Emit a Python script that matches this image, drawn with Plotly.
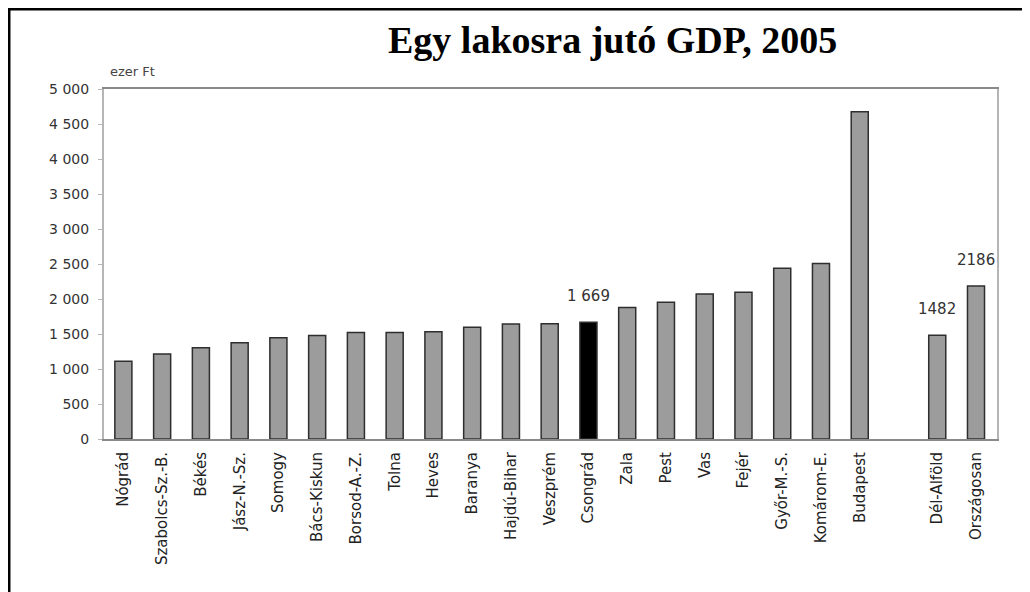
import plotly.graph_objects as go

categories = ["Nógrád", "Szabolcs-Sz.-B.", "Békés", "Jász-N.-Sz.", "Somogy", "Bács-Kiskun",
              "Borsod-A.-Z.", "Tolna", "Heves", "Baranya", "Hajdú-Bihar", "Veszprém",
              "Csongrád", "Zala", "Pest", "Vas", "Fejér", "Győr-M.-S.", "Komárom-E.",
              "Budapest", " ", "Dél-Alföld", "Országosan"]
values = [1110, 1215, 1305, 1375, 1448, 1480, 1522, 1522, 1533, 1595, 1643, 1645,
          1669, 1880, 1952, 2070, 2095, 2438, 2508, 4676, None, 1482, 2186]
highlight = "Csongrád"
labels = {"Csongrád": "1 669", "Dél-Alföld": "1482", "Országosan": "2186"}
y_ticks = [0, 500, 1000, 1500, 2000, 2500, 3000, 3500, 4000, 4500, 5000]
title_text = "Egy lakosra jutó GDP, 2005"
unit_text = "ezer Ft"

colors = ["#000000" if c == highlight else "#9c9c9c" for c in categories]

fig = go.Figure()
fig.add_trace(go.Bar(
    x=categories, y=values,
    marker=dict(color=colors, line=dict(color="#2e2e2e", width=1.5)),
    hoverinfo="x+y",
))

for cat, txt in labels.items():
    fig.add_annotation(x=cat, y=values[categories.index(cat)], text=txt,
                       showarrow=False, yanchor="middle", yshift=26,
                       font=dict(family="DejaVu Sans", size=15, color="#333333"))

fig.add_annotation(xref="paper", yref="paper", x=0.004, y=1.05, text=unit_text,
                   showarrow=False, xanchor="left", yanchor="middle",
                   font=dict(family="DejaVu Sans", size=13, color="#444444"))

fig.add_annotation(xref="paper", yref="paper", x=0.569, y=1.14, text="<b>" + title_text + "</b>",
                   showarrow=False, xanchor="center", yanchor="middle",
                   font=dict(family="Liberation Serif", size=38, color="#000000"))

# outer frame (right and bottom edges lie outside the picture)
fig.add_shape(type="rect", xref="paper", yref="paper", x0=-0.1064, y0=-0.5, x1=1.08, y1=1.2286,
              line=dict(color="#000000", width=3), layer="above")

fig.update_layout(
    width=1022, height=584,
    margin=dict(l=96, r=33, t=81, b=153),
    paper_bgcolor="white", plot_bgcolor="white",
    separators=", ",
    bargap=0.56,
    showlegend=False,
    font=dict(family="DejaVu Sans", color="#333333"),
    xaxis=dict(type="category", categoryorder="array", categoryarray=categories,
               tickangle=-90, tickfont=dict(family="DejaVu Sans", size=15, color="#222222"),
               showline=True, linecolor="#8a8a8a", linewidth=2, mirror=True,
               ticks="", ticklabelstandoff=5, showgrid=False, fixedrange=True),
    yaxis=dict(range=[0, 5000], tickvals=y_ticks, tickformat=",d",
               tickfont=dict(family="DejaVu Sans", size=14, color="#333333"),
               showline=True, linecolor="#b5b5b5", linewidth=2, mirror=True,
               ticks="outside", ticklen=4, tickcolor="#b5b5b5",
               ticklabelstandoff=6, showgrid=False, zeroline=False, fixedrange=True),
)

fig.write_html("out.html")
